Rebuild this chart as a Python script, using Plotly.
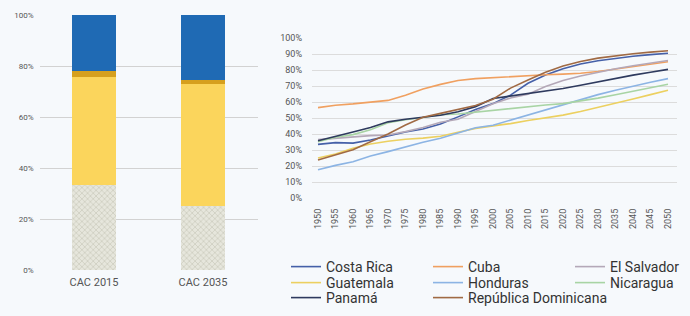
import plotly.graph_objects as go

W, H = 690, 316

# ---- Left chart: stacked 100% bars ----
bar_cats = ["CAC 2015", "CAC 2035"]
seg_hatched = [33.5, 25.0]
seg_yellow = [42.0, 48.0]
seg_gold = [2.5, 1.5]
seg_blue = [22.0, 25.5]

# ---- Right chart: urbanization lines ----
years = list(range(1950, 2051, 5))
costa_rica = [33.5, 34.6, 34.3, 36.3, 38.8, 41.3, 43.1, 46.2, 50.7, 55.3, 59.0, 64.3, 71.7, 76.9, 80.8, 83.7, 85.8, 87.4, 88.6, 89.6, 90.5]
cuba = [56.5, 58.0, 58.8, 60.0, 61.0, 64.2, 68.1, 71.0, 73.4, 74.6, 75.3, 75.8, 76.4, 77.0, 77.4, 78.0, 79.1, 80.6, 82.2, 83.7, 85.2]
el_salvador = [36.5, 37.3, 38.3, 39.0, 39.4, 41.5, 44.1, 47.3, 49.2, 54.0, 58.9, 62.5, 64.8, 69.7, 73.4, 76.2, 78.7, 80.8, 82.7, 84.4, 85.9]
guatemala = [25.0, 27.5, 31.1, 33.8, 35.5, 36.7, 37.4, 38.6, 41.1, 43.5, 45.1, 46.5, 48.4, 50.0, 51.8, 54.1, 56.6, 59.2, 61.9, 64.6, 67.3]
honduras = [17.6, 20.4, 22.7, 26.2, 29.0, 32.0, 34.9, 37.3, 40.4, 43.9, 45.5, 48.7, 51.6, 55.0, 58.4, 61.6, 64.6, 67.3, 69.9, 72.4, 74.6]
nicaragua = [35.2, 38.0, 39.6, 42.6, 47.0, 48.9, 50.3, 52.1, 52.5, 53.6, 55.1, 55.9, 56.9, 58.1, 59.0, 60.6, 62.4, 64.5, 66.7, 68.9, 71.1]
panama = [35.8, 38.4, 41.2, 44.1, 47.6, 49.2, 50.4, 51.7, 53.9, 57.1, 62.2, 63.7, 65.1, 66.6, 68.4, 70.5, 72.7, 74.8, 76.8, 78.6, 80.4]
rep_dom = [23.7, 26.9, 30.2, 35.2, 40.0, 45.6, 50.5, 52.9, 55.2, 57.8, 61.7, 68.7, 73.8, 78.6, 82.5, 85.3, 87.4, 89.0, 90.2, 91.2, 92.0]

series_names = ["Costa Rica", "Cuba", "El Salvador", "Guatemala", "Honduras", "Nicaragua", "Panamá", "República Dominicana"]
series_values = [costa_rica, cuba, el_salvador, guatemala, honduras, nicaragua, panama, rep_dom]
series_colors = ["#4560a8", "#f0a060", "#b4a8b8", "#ecd060", "#8cb4e4", "#a8d4a4", "#2e3a5e", "#a06a44"]

y_ticks_left = [0, 20, 40, 60, 80, 100]
y_ticks_right = list(range(0, 101, 10))

fig = go.Figure()

# bars
fig.add_trace(go.Bar(x=bar_cats, y=seg_hatched, marker=dict(color="#e6e6dc",
    pattern=dict(shape="x", fgcolor="#b4b4a4", bgcolor="#e6e6dc", size=4, solidity=0.35),
    line=dict(width=0)), xaxis="x", yaxis="y", showlegend=False, hoverinfo="skip"))
fig.add_trace(go.Bar(x=bar_cats, y=seg_yellow, marker=dict(color="#fbd55c", line=dict(width=0)),
    xaxis="x", yaxis="y", showlegend=False))
fig.add_trace(go.Bar(x=bar_cats, y=seg_gold, marker=dict(color="#d6a01e", line=dict(width=0)),
    xaxis="x", yaxis="y", showlegend=False))
fig.add_trace(go.Bar(x=bar_cats, y=seg_blue, marker=dict(color="#1f6ab4", line=dict(width=0)),
    xaxis="x", yaxis="y", showlegend=False))

# lines, legend split in three rows
legend_ids = ["legend", "legend2", "legend3"]
for i, (name, vals, col) in enumerate(zip(series_names, series_values, series_colors)):
    fig.add_trace(go.Scatter(x=years, y=vals, mode="lines", name=name,
        line=dict(color=col, width=1.6), xaxis="x2", yaxis="y2",
        legend=legend_ids[i // 3]))
# empty spacer entry so the last legend row is wide enough for its long label
fig.add_trace(go.Scatter(x=[None], y=[None], mode="lines", name=" ",
    line=dict(color="rgba(0,0,0,0)", width=0), xaxis="x2", yaxis="y2",
    legend="legend3", hoverinfo="skip"))

tick_font = dict(family="Roboto", size=8, color="#555555")
tick_font2 = dict(family="Roboto", size=9, color="#555555")
legend_common = dict(orientation="h", xanchor="left", yanchor="middle", traceorder="normal",
                     entrywidth=97, entrywidthmode="pixels",
                     font=dict(family="Roboto", size=14, color="#333333"),
                     bgcolor="rgba(0,0,0,0)", itemwidth=30, tracegroupgap=0)
row_y = [267, 283, 298]
leg_x = 286 / W

fig.update_layout(
    width=W, height=H,
    margin=dict(l=0, r=0, t=0, b=0, autoexpand=False),
    paper_bgcolor="#f6f9fc", plot_bgcolor="rgba(0,0,0,0)",
    barmode="stack", bargap=0.59,
    font=dict(family="Roboto", color="#444444"),
    xaxis=dict(domain=[39.5 / W, 257.5 / W], anchor="y", showgrid=False, showline=False,
               ticks="", tickfont=dict(family="Roboto", size=11, color="#555555"), ticklabelstandoff=4),
    yaxis=dict(domain=[(H - 270) / H, (H - 15) / H], range=[0, 100], anchor="x",
               tickvals=y_ticks_left, ticktext=[f"{v}%" for v in y_ticks_left],
               showgrid=True, gridcolor="#d2d2d2", gridwidth=1, zeroline=False,
               tickfont=tick_font, ticklabelstandoff=5),
    xaxis2=dict(domain=[312 / W, 677 / W], range=[1948.29, 2052.57], anchor="y2",
                tickvals=years, ticktext=[str(y) for y in years], tickangle=-90,
                showgrid=False, zeroline=False, showline=False, ticks="",
                tickfont=tick_font2, ticklabelstandoff=8),
    yaxis2=dict(domain=[(H - 198) / H, (H - 38) / H], range=[0, 100], anchor="x2",
                tickvals=y_ticks_right, ticktext=[f"{v}%" for v in y_ticks_right],
                showgrid=True, gridcolor="#dcdcdc", gridwidth=1, zeroline=False,
                tickfont=tick_font2, ticklabelstandoff=9),
    legend=dict(legend_common, x=leg_x, y=(H - row_y[0]) / H),
    legend2=dict(legend_common, x=leg_x, y=(H - row_y[1]) / H),
    legend3=dict(legend_common, x=leg_x, y=(H - row_y[2]) / H),
)

fig.write_html("out.html", config={"displayModeBar": False},
               post_script="document.body.style.margin='0';document.body.style.overflow='hidden';")
